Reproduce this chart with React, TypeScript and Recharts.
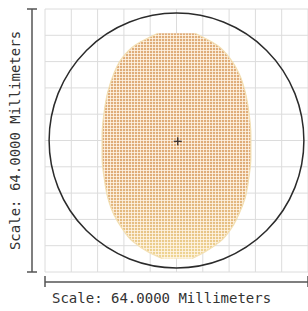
import React from 'react';
import {
  ComposedChart,
  Area,
  XAxis,
  YAxis,
  CartesianGrid,
  ReferenceArea,
  ReferenceDot,
} from 'recharts';

// ── data (millimetres, 0 = field centre) ─────────────────

const gridTicks = [-32, -25.6, -19.2, -12.8, -6.4, 0, 6.4, 12.8, 19.2, 25.6, 32];
const axisEnds = [-32, 32];

// spot outline, read row by row from top to bottom
const rowY = [26.1, 23.2, 20.0, 15.9, 11.9, 7.0, 1.3, -4.3, -9.1, -14.0, -18.1, -21.3, -24.6, -27.1, -28.7];
const rowLeft = [-4.5, -10.1, -13.3, -15.4, -16.7, -17.6, -18.1, -18.1, -17.6, -16.7, -15.2, -13.3, -10.6, -6.9, -3.5];
const rowRight = [4.5, 9.9, 13.0, 15.4, 16.7, 17.6, 18.1, 18.1, 17.6, 16.7, 15.1, 13.4, 10.6, 6.9, 3.8];

const fieldRadius = 31;
const centerMark = { x: 0.3, y: -0.2 };
const scaleLabel = 'Scale: 64.0000 Millimeters';

const spotRows = rowY.map((y, i) => ({ y, span: [rowLeft[i], rowRight[i]] }));

const axisColor = '#555';
const textFont = '"DejaVu Sans Mono", monospace';

// ── small render helpers ─────────────────────────────────

// bottom axis: end cap, plus the scale caption under the left end
// eslint-disable-next-line @typescript-eslint/no-explicit-any
const BottomTick = (props: any) => {
  const { x, y, payload } = props;
  if (!axisEnds.includes(payload.value)) return <g />;
  return (
    <g>
      <line x1={x} x2={x} y1={y + 4} y2={y + 15} stroke={axisColor} strokeWidth={1.5} />
      {payload.value === -32 && (
        <text x={x + 7} y={y + 31} fontFamily={textFont} fontSize={14} fill="#333">
          {scaleLabel}
        </text>
      )}
    </g>
  );
};

// left axis: end caps, plus the rotated caption at the middle tick
// eslint-disable-next-line @typescript-eslint/no-explicit-any
const LeftTick = (props: any) => {
  const { x, y, payload } = props;
  if (payload.value === 0) {
    const tx = x - 25.5;
    return (
      <text
        x={tx}
        y={y}
        transform={`rotate(-90, ${tx}, ${y})`}
        textAnchor="middle"
        fontFamily={textFont}
        fontSize={14}
        fill="#333"
      >
        {scaleLabel}
      </text>
    );
  }
  if (!axisEnds.includes(payload.value)) return <g />;
  return <line x1={x - 18} x2={x - 8} y1={y} y2={y} stroke={axisColor} strokeWidth={1.5} />;
};

// eslint-disable-next-line @typescript-eslint/no-explicit-any
const FieldCircle = (props: any) => {
  const { x, y, width, height } = props;
  return (
    <ellipse
      cx={x + width / 2}
      cy={y + height / 2}
      rx={width / 2}
      ry={height / 2}
      fill="none"
      stroke="#2b2b2b"
      strokeWidth={1.5}
    />
  );
};

// eslint-disable-next-line @typescript-eslint/no-explicit-any
const CrossMark = (props: any) => {
  const { cx, cy } = props;
  return (
    <g stroke="#3a3030" strokeWidth={1.3}>
      <line x1={cx - 4} x2={cx + 4} y1={cy} y2={cy} />
      <line x1={cx} x2={cx} y1={cy - 4} y2={cy + 4} />
    </g>
  );
};

// ── main ─────────────────────────────────────────────────

export default function App() {
  return (
    <div style={{ position: 'absolute', left: 0, top: 0, background: '#fff' }}>
      <ComposedChart
        width={308}
        height={311}
        layout="vertical"
        data={spotRows}
        margin={{ top: 9, right: 0, bottom: 0, left: 0 }}
      >
        <defs>
          <linearGradient id="spotGrad" x1="0" y1="0" x2="0" y2="1">
            <stop offset="0%" stopColor="#dfad7a" />
            <stop offset="62%" stopColor="#dfac78" />
            <stop offset="84%" stopColor="#e5bd82" />
            <stop offset="100%" stopColor="#efd693" />
          </linearGradient>
          <pattern id="dotGrid" width="3" height="3" patternUnits="userSpaceOnUse">
            <path d="M2.5 0V3M0 2.5H3" stroke="#fff6e8" strokeWidth={1} strokeOpacity={0.8} />
          </pattern>
        </defs>

        <CartesianGrid stroke="#dcdcdc" strokeWidth={1} />

        <XAxis
          type="number"
          domain={[-32, 32]}
          ticks={gridTicks}
          interval={0}
          allowDataOverflow
          height={39}
          tickSize={0}
          tickMargin={0}
          tickLine={false}
          tick={<BottomTick />}
          axisLine={{ stroke: axisColor, strokeWidth: 1.5, transform: 'translate(0 10)' }}
        />

        <YAxis
          type="number"
          dataKey="y"
          domain={[-32, 32]}
          ticks={gridTicks}
          interval={0}
          reversed
          allowDataOverflow
          width={45}
          tickSize={0}
          tickMargin={0}
          tickLine={false}
          tick={<LeftTick />}
          axisLine={{ stroke: axisColor, strokeWidth: 1.5, transform: 'translate(-13 0)' }}
        />

        <Area
          type="monotone"
          dataKey="span"
          stroke="none"
          fill="url(#spotGrad)"
          fillOpacity={1}
          dot={false}
          activeDot={false}
          isAnimationActive={false}
        />
        <Area
          type="monotone"
          dataKey="span"
          stroke="#f3e0b4"
          strokeWidth={1.2}
          fill="url(#dotGrid)"
          fillOpacity={1}
          dot={false}
          activeDot={false}
          isAnimationActive={false}
        />

        <ReferenceArea
          x1={-fieldRadius}
          x2={fieldRadius}
          y1={-fieldRadius}
          y2={fieldRadius}
          shape={<FieldCircle />}
        />
        <ReferenceDot x={centerMark.x} y={centerMark.y} shape={<CrossMark />} />
      </ComposedChart>
    </div>
  );
}
